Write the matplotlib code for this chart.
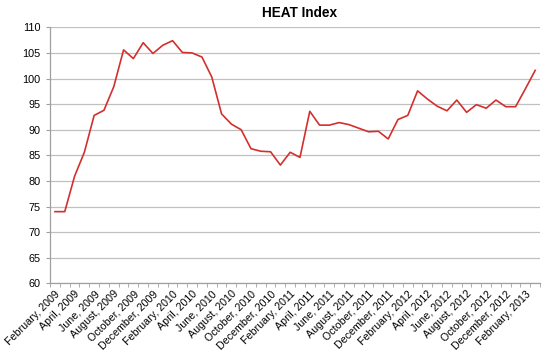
import matplotlib
matplotlib.use("Agg")
import matplotlib.pyplot as plt
import numpy as np

# monthly HEAT index, February 2009 .. March 2013
heat_values = [
    74.0, 74.0, 80.9, 85.6, 92.8, 93.8, 98.4, 105.6, 103.9, 107.0, 104.9,
    106.5, 107.4, 105.1, 105.0, 104.2, 100.3, 93.1, 91.1, 90.0, 86.3, 85.8,
    85.7, 83.1, 85.6, 84.6, 93.6, 90.9, 90.9, 91.4, 91.0, 90.3, 89.6, 89.7,
    88.2, 92.0, 92.8, 97.6, 96.0, 94.6, 93.7, 95.8, 93.4, 94.9, 94.2, 95.8,
    94.5, 94.5, 98.0, 101.6,
]

# every second month is labelled
tick_labels = [
    "February, 2009", "April, 2009", "June, 2009", "August, 2009",
    "October, 2009", "December, 2009", "February, 2010", "April, 2010",
    "June, 2010", "August, 2010", "October, 2010", "December, 2010",
    "February, 2011", "April, 2011", "June, 2011", "August, 2011",
    "October, 2011", "December, 2011", "February, 2012", "April, 2012",
    "June, 2012", "August, 2012", "October, 2012", "December, 2012",
    "February, 2013",
]

y_ticks = [60, 65, 70, 75, 80, 85, 90, 95, 100, 105, 110]

plt.rcParams["font.family"] = ["Liberation Sans", "DejaVu Sans"]

fig = plt.figure(figsize=(5.5, 3.6), dpi=100)
ax = fig.add_axes([0.091, 0.213, 0.891, 0.711])

x = np.arange(len(heat_values))
ax.plot(x, heat_values, color="#d2302e", linewidth=1.2, zorder=3)

ax.set_xlim(-0.5, len(heat_values) - 0.5)
ax.set_ylim(60, 110)
ax.set_yticks(y_ticks)
ax.tick_params(axis="y", labelsize=7.8, length=3, color="#a0a0a0", pad=4)
ax.grid(axis="y", color="#c0c0c0", linewidth=0.9)
ax.set_axisbelow(True)

# labels on every second category, tick marks on every category boundary
ax.set_xticks(x[::2])
ax.set_xticklabels(tick_labels, rotation=45, ha="right", rotation_mode="anchor", fontsize=7.7)
ax.tick_params(axis="x", which="major", length=0, pad=4)
ax.set_xticks(np.arange(-0.5, len(heat_values)), minor=True)
ax.tick_params(axis="x", which="minor", length=3, color="#a0a0a0")

for side in ("top", "right"):
    ax.spines[side].set_visible(False)
for side in ("left", "bottom"):
    ax.spines[side].set_color("#a0a0a0")
    ax.spines[side].set_linewidth(0.9)

fig.text(0.545, 0.965, "HEAT Index", ha="center", va="center", fontsize=9.8, fontweight="bold")

fig.savefig("out.png", dpi=100, facecolor="white")
